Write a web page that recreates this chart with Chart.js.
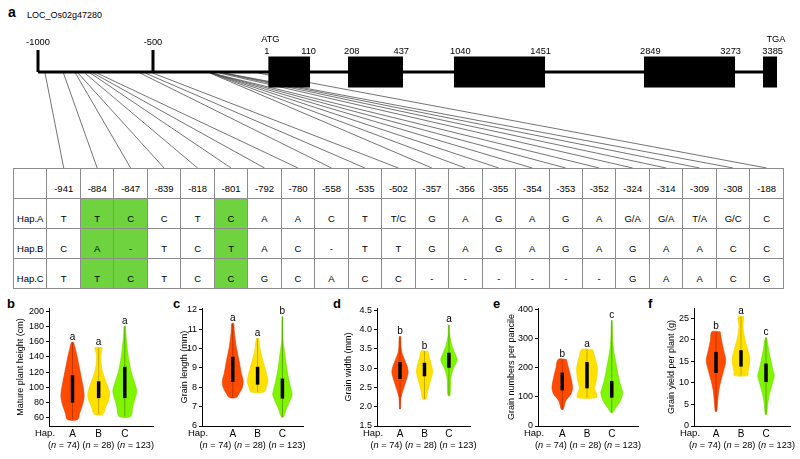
<!DOCTYPE html>
<html>
<head>
<meta charset="utf-8">
<script src="https://cdn.jsdelivr.net/npm/chart.js@4.4.1/dist/chart.umd.min.js"></script>
<style>
body{margin:0;background:#fff;width:800px;height:459px;position:relative;overflow:hidden;font-family:"Liberation Sans",Arial,sans-serif;color:#000;}
canvas{position:absolute;}
.plab{position:absolute;font-weight:bold;font-size:13px;line-height:13px;}
#geneName{position:absolute;left:27px;top:11px;font-size:9px;line-height:9px;}
#snpTable{position:absolute;left:13px;top:168px;width:771px;border-collapse:collapse;table-layout:fixed;font-size:9.5px;}
#snpTable td{border:1px solid #8c8c8c;text-align:center;font-weight:400;line-height:12px;padding:14px 0 3px 0;vertical-align:top;white-space:nowrap;}
#snpTable .hit{background:#6fd33f;}
</style>
</head>
<body>
<div class="plab" style="left:8px;top:5px;font-size:14px;line-height:14px;">a</div>
<div id="geneName"></div>
<canvas id="geneChart" width="800" height="168" style="left:0;top:0"></canvas>
<table id="snpTable"><tbody></tbody></table>
<div class="plab" style="left:7px;top:297px;">b</div>
<div class="plab" style="left:173px;top:297px;">c</div>
<div class="plab" style="left:333px;top:297px;">d</div>
<div class="plab" style="left:493px;top:297px;">e</div>
<div class="plab" style="left:648px;top:297px;">f</div>

<script>
// ================================
// DATA
// ================================

const geneName = 'LOC_Os02g47280';

const promoterTicks = [-1000, -500];
const exonStart = [1, 208, 1040, 2849, 3320];
const exonEnd = [110, 437, 1451, 3273, 3385];
const exonLabels = [1, 110, 208, 437, 1040, 1451, 2849, 3273, 3385];

// the gene model is a schematic, not to scale: where landmarks sit along the drawn track (0-100)
const trackBp  = [-1000, -941, -780, -558, -500, -357, -188, 0, 110, 208, 437, 1040, 1451, 2849, 3273, 3320, 3385];
const trackPos = [0, 0.95, 7.98, 13.8, 15.56, 23.27, 29.77, 31.12, 36.81, 41.95, 49.39, 56.29, 68.61, 82.0, 94.32, 98.11, 100];

const snpPos = [-941, -884, -847, -839, -818, -801, -792, -780, -558, -535, -502, -357, -356, -355, -354, -353, -352, -324, -314, -309, -308, -188];
const highlightSnp = [-884, -847, -801];
const hapRowNames = ['Hap.A', 'Hap.B', 'Hap.C'];
const hapA = ['T','T','C','C','T','C','A','A','C','T','T/C','G','A','G','A','G','A','G/A','G/A','T/A','G/C','C'];
const hapB = ['C','A','-','T','C','T','A','C','-','T','T','G','A','G','A','G','A','G','A','A','C','C'];
const hapC = ['T','T','C','T','C','C','G','C','A','C','C','-','-','-','-','-','-','G','A','A','C','G'];

const haps = ['A', 'B', 'C'];
const hapN = [74, 28, 123];

// violin outlines: values (top to bottom) and relative half widths
const heightTicks = [60, 80, 100, 120, 140, 160, 180, 200];
const heightY = [[159,150,140,123,106,95,88,78,67,58],[152,145,135,122,110,100,92,84,75,65],[180,170,160,140,120,105,95,85,75,62]];
const heightW = [[3,8,13,20,27,31,32,28,20,14],[10,7,6,10,18,26,30,28,20,12],[2,3,5,10,18,28,33,28,22,16]];
const heightBox = [[80,95,116],[86,90,108],[86,97,127]];
const heightSig = ['a','a','a'];

const lengthTicks = [6, 7, 8, 9, 10, 11, 12];
const lengthY = [[11.3,10.8,10.1,9.4,8.7,8.37,8.0,7.67,7.47],[10.53,9.92,9.23,8.63,8.28,8.02,7.76],[11.65,10.44,10.0,9.06,8.28,7.85,7.59,7.15,6.81,6.46]];
const lengthW = [[3,5,10,18,25,30,28,18,10],[3,8,18,27,30,25,20],[1,2,5,12,20,26,28,18,10,3]];
const lengthBox = [[8.28,8.75,9.58],[8.14,8.6,9.06],[7.42,7.9,8.45]];
const lengthSig = ['a','a','b'];

const widthTicks = [1.5, 2.0, 2.5, 3.0, 3.5, 4.0, 4.5];
const widthY = [[3.82,3.47,3.29,3.07,2.9,2.68,2.46,2.24,1.94],[3.44,3.29,3.03,2.9,2.68,2.42,2.2],[4.12,3.82,3.55,3.34,3.2,3.03,2.77,2.29]];
const widthW = [[2,4,10,20,24,18,10,3,1],[10,14,22,24,18,10,5],[1,3,10,20,24,15,6,3]];
const widthBox = [[2.72,2.95,3.16],[2.79,2.97,3.14],[3.01,3.2,3.4]];
const widthSig = ['b','b','a'];

const numberTicks = [0, 100, 200, 300, 400];
const numberY = [[228,200,166,131,109,86,57],[262,240,200,160,130,110,97],[362,291,257,217,166,131,114,86,63,46]];
const numberW = [[12,18,25,30,25,10,3],[16,22,30,28,22,28,28],[1,3,6,12,20,28,32,25,12,3]];
const numberBox = [[122,150,183],[129,165,219],[97,120,154]];
const numberSig = ['b','a','c'];

const yieldTicks = [0, 5, 10, 15, 20, 25];
const yieldY = [[21.9,19.9,17.6,15.2,12.9,10.5,8.2,5.9,3.4],[25.4,23,19.9,17.6,16,14.1,12.5,11.7],[20.5,17.6,15.2,12.9,11.7,9.8,7.4,5.1,2.7]];
const yieldW = [[12,16,22,28,22,14,8,5,2],[8,6,12,20,25,24,20,20],[2,8,14,20,24,18,10,5,2]];
const yieldBox = [[12.3,14.7,17.2],[13.8,15.7,17.6],[10.2,11.9,14.5]];
const yieldSig = ['b','a','c'];


// ================================
// STYLE
// ================================

const FONT = '"Liberation Sans", Arial, sans-serif';
Chart.defaults.font.family = FONT;
Chart.defaults.color = '#000';

const hapFill = ['#ff4b00', '#ffe100', '#80f500'];
const hapEdge = ['#e83c00', '#f2d200', '#72e000'];
const hapLine = ['#b32e00', '#b39c00', '#4f9a00'];
const violinScale = 1 / 72;


// ================================
// GENE MODEL + SNP TABLE
// ================================

document.getElementById('geneName').textContent = geneName;

function trackU(bp){
  for (let i = 1; i < trackBp.length; i++){
    if (bp <= trackBp[i]){
      const t = (bp - trackBp[i-1]) / (trackBp[i] - trackBp[i-1]);
      return trackPos[i-1] + t * (trackPos[i] - trackPos[i-1]);
    }
  }
  return trackPos[trackPos.length - 1];
}

const tbody = document.querySelector('#snpTable tbody');
let rows = '<tr class="head"><td></td>' + snpPos.map(p => '<td>' + p + '</td>').join('') + '</tr>';
[hapA, hapB, hapC].forEach((row, r) => {
  rows += '<tr><td>' + hapRowNames[r] + '</td>' +
    row.map((a, i) => '<td' + (highlightSnp.includes(snpPos[i]) ? ' class="hit"' : '') + '>' + a + '</td>').join('') + '</tr>';
});
tbody.innerHTML = rows;

const geneMarks = {
  id: 'geneMarks',
  beforeDatasetsDraw(chart){
    const {ctx, scales:{x, y}} = chart;
    const y0 = y.getPixelForValue(0);
    const cv = chart.canvas.getBoundingClientRect();
    const cells = document.querySelectorAll('#snpTable tr.head td');
    ctx.save();
    ctx.strokeStyle = '#505050';
    ctx.lineWidth = 0.8;
    snpPos.forEach((p, i) => {
      const r = cells[i+1].getBoundingClientRect();
      ctx.beginPath();
      ctx.moveTo(x.getPixelForValue(trackU(p)), y0 + 1);
      ctx.lineTo(r.left + r.width / 2 - cv.left, chart.height);
      ctx.stroke();
    });
    ctx.strokeStyle = '#000';
    ctx.lineWidth = 3;
    promoterTicks.forEach(t => {
      const px = x.getPixelForValue(trackU(t));
      ctx.beginPath();
      ctx.moveTo(px, y0);
      ctx.lineTo(px, y0 - 22);
      ctx.stroke();
    });
    ctx.restore();
  },
  afterDatasetsDraw(chart){
    const {ctx, scales:{x, y}} = chart;
    const y0 = y.getPixelForValue(0);
    ctx.save();
    ctx.fillStyle = '#000';
    ctx.font = '9.3px ' + FONT;
    ctx.textBaseline = 'middle';
    ctx.textAlign = 'center';
    promoterTicks.forEach(t => ctx.fillText(String(t), x.getPixelForValue(trackU(t)), y0 - 30));
    exonLabels.forEach(v => {
      const px = x.getPixelForValue(trackU(v));
      if (exonStart.includes(v)){
        ctx.textAlign = 'left';
        ctx.fillText(String(v), px - 4, y0 - 21);
      } else {
        ctx.textAlign = 'right';
        ctx.fillText(String(v), px + 6, y0 - 21);
      }
    });
    ctx.textAlign = 'center';
    ctx.fillText('ATG', x.getPixelForValue(trackU(exonStart[0])) + 2, y0 - 33);
    ctx.fillText('TGA', x.getPixelForValue(trackU(exonEnd[exonEnd.length-1])) - 1, y0 - 33);
    ctx.restore();
  }
};

new Chart(document.getElementById('geneChart'), {
  type: 'scatter',
  data: {
    datasets: [
      {data:[{x:trackU(-1000), y:0}, {x:trackU(3385), y:0}], showLine:true, borderColor:'#000', borderWidth:3, pointRadius:0, clip:false},
      ...exonStart.map((s, i) => ({
        data:[{x:trackU(s), y:0}, {x:trackU(exonEnd[i]), y:0}],
        showLine:true, borderColor:'#000', borderWidth:31, borderCapStyle:'butt', pointRadius:0, clip:false
      }))
    ]
  },
  options: {
    responsive:false,
    animation:false,
    layout:{padding:{left:38, right:23, top:0, bottom:0}},
    scales:{
      x:{display:false, min:0, max:100},
      y:{display:false, min:-3, max:2.25}
    },
    plugins:{legend:{display:false}, tooltip:{enabled:false}}
  },
  plugins:[geneMarks]
});


// ================================
// VIOLIN PANELS
// ================================

const panels = [
  {title:'Mature plant height (cm)', ticks:heightTicks, ys:heightY, ws:heightW, box:heightBox, sig:heightSig, min:49.5, max:204, dec:0,
   left:0, width:160, axisX:49, right:153, xmin:0.1, xmax:4.08, titlePad:15.6},
  {title:'Grain length (mm)', ticks:lengthTicks, ys:lengthY, ws:lengthW, box:lengthBox, sig:lengthSig, min:6, max:12.1, dec:0,
   left:165, width:150, axisX:202, right:303, xmin:-0.24, xmax:3.83, titlePad:14.5},
  {title:'Grain width (mm)', ticks:widthTicks, ys:widthY, ws:widthW, box:widthBox, sig:widthSig, min:1.5, max:4.56, dec:1,
   left:320, width:160, axisX:377, right:470, xmin:0.06, xmax:3.86, titlePad:23.6},
  {title:'Grain numbers per pancile', ticks:numberTicks, ys:numberY, ws:numberW, box:numberBox, sig:numberSig, min:0, max:404, dec:0,
   left:478, width:170, axisX:538, right:638, xmin:0.02, xmax:4.06, titlePad:28.6},
  {title:'Grain yield per plant (g)', ticks:yieldTicks, ys:yieldY, ws:yieldW, box:yieldBox, sig:yieldSig, min:0, max:27.4, dec:0,
   left:642, width:158, axisX:694, right:790, xmin:0.12, xmax:3.96, titlePad:24.6}
];

const violinExtras = {
  id: 'violinExtras',
  afterDraw(chart, args, opts){
    const {ctx, chartArea, scales:{x, y}} = chart;
    ctx.save();
    ctx.fillStyle = '#000';
    // significance letters
    ctx.font = '10px ' + FONT;
    ctx.textAlign = 'center';
    ctx.textBaseline = 'alphabetic';
    opts.sig.forEach((s, i) => {
      ctx.fillText(s, x.getPixelForValue(i + 1), y.getPixelForValue(Math.max(...opts.ys[i])) - 2.5);
    });
    // Hap. label
    ctx.font = '9.5px ' + FONT;
    ctx.textBaseline = 'middle';
    ctx.fillText('Hap.', chartArea.left - 4, chartArea.bottom + 7.5);
    // sample sizes
    const parts = [];
    hapN.forEach((n, i) => {
      parts.push(['(', false], ['n', true], [' = ' + n + ')', false]);
      if (i < hapN.length - 1) parts.push([' ', false]);
    });
    const fN = '9.2px ' + FONT, fI = 'italic 9.2px ' + FONT;
    let total = 0;
    parts.forEach(p => { ctx.font = p[1] ? fI : fN; total += ctx.measureText(p[0]).width; });
    let px = (chartArea.left + chartArea.right) / 2 - total / 2;
    ctx.textAlign = 'left';
    parts.forEach(p => {
      ctx.font = p[1] ? fI : fN;
      ctx.fillText(p[0], px, chartArea.bottom + 19.5);
      px += ctx.measureText(p[0]).width;
    });
    ctx.restore();
  }
};

panels.forEach((p, k) => {
  const cv = document.createElement('canvas');
  cv.width = p.width;
  cv.height = 169;
  cv.style.left = p.left + 'px';
  cv.style.top = '290px';
  document.body.appendChild(cv);

  const datasets = [];
  haps.forEach((h, i) => {
    const pos = i + 1;
    const ys = p.ys[i], ws = p.ws[i];
    const right = ys.map((v, j) => ({x: pos + ws[j] * violinScale, y: v}));
    const left = ys.map((v, j) => ({x: pos - ws[j] * violinScale, y: v})).reverse();
    const outline = right.concat(left, [right[0]]);
    datasets.push({data:outline, showLine:true, fill:'shape', tension:0.3, backgroundColor:hapFill[i],
      borderColor:hapEdge[i], borderWidth:0.6, pointRadius:0, order:3});
    datasets.push({data:[{x:pos, y:Math.min(...ys)}, {x:pos, y:Math.max(...ys)}], showLine:true,
      borderColor:hapLine[i], borderWidth:0.8, pointRadius:0, order:2});
    datasets.push({data:[{x:pos, y:p.box[i][0]}, {x:pos, y:p.box[i][2]}], showLine:true,
      borderColor:'#000', borderWidth:3.5, borderCapStyle:'butt', pointRadius:0, order:1});
  });

  new Chart(cv, {
    type:'scatter',
    data:{datasets},
    options:{
      responsive:false,
      animation:false,
      layout:{padding:{left:0, top:18, right:p.left + p.width - p.right, bottom:0}},
      scales:{
        x:{
          type:'linear', min:p.xmin, max:p.xmax,
          grid:{display:false, drawTicks:false},
          border:{color:'#000', width:1},
          ticks:{font:{size:10}, color:'#000', padding:2, callback:v => haps[v - 1] || ''},
          afterBuildTicks:s => { s.ticks = haps.map((h, i) => ({value:i + 1})); },
          afterFit:s => { s.height = 33; }
        },
        y:{
          min:p.min, max:p.max,
          grid:{drawOnChartArea:false, drawTicks:true, tickLength:3, color:'#000', tickColor:'#000'},
          border:{color:'#000', width:1},
          ticks:{font:{size:9}, color:'#000', padding:2, callback:v => Number(v).toFixed(p.dec)},
          afterBuildTicks:s => { s.ticks = p.ticks.map(v => ({value:v})); },
          afterFit:s => { s.width = p.axisX - p.left; },
          title:{display:true, text:p.title, font:{size:9}, color:'#000', padding:{top:p.titlePad, bottom:0}}
        }
      },
      plugins:{legend:{display:false}, tooltip:{enabled:false}, violinExtras:{sig:p.sig, ys:p.ys}}
    },
    plugins:[violinExtras]
  });
});
</script>
</body>
</html>
